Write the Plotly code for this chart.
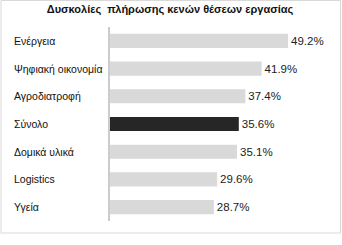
import plotly.graph_objects as go

categories = ["Ενέργεια", "Ψηφιακή οικονομία", "Αγροδιατροφή", "Σύνολο", "Δομικά υλικά", "Logistics", "Υγεία"]
values = [49.2, 41.9, 37.4, 35.6, 35.1, 29.6, 28.7]
labels = [f"{v:.1f}%" for v in values]
colors = ["#262626" if c == "Σύνολο" else "#d9d9d9" for c in categories]

W, H = 342, 245
ml, mr, mt, mb = 110, 20, 27, 24
pw, ph = W - ml - mr, H - mt - mb

fig = go.Figure(go.Bar(
    x=values, y=categories, orientation="h",
    marker=dict(color=colors, line=dict(width=0)),
    text=labels, textposition="outside", cliponaxis=False,
    textfont=dict(family="Liberation Sans, Arial", size=11.5, color="#222"),
))

for c in categories:
    fig.add_annotation(x=-98 / pw, xref="paper", y=c, yref="y", text=c,
                       showarrow=False, xanchor="left",
                       font=dict(family="Liberation Sans, Arial", size=10.5, color="#111"))

def px(x): return (x - ml) / pw
def py(y): return (H - mb - y) / ph

fig.add_shape(type="rect", xref="paper", yref="paper",
              x0=px(1), x1=px(340.5), y0=py(233), y1=py(0.5),
              line=dict(color="#d9d9d9", width=1), layer="below")

fig.update_layout(
    width=W, height=H, margin=dict(l=ml, r=mr, t=mt, b=mb),
    paper_bgcolor="white", plot_bgcolor="white",
    bargap=0.49, showlegend=False,
    title=dict(text="<b>Δυσκολίες  πλήρωσης κενών θέσεων εργασίας</b>", x=0.5, xref="paper",
               xanchor="center", y=1 - 9 / H, yanchor="middle",
               font=dict(family="Liberation Sans, Arial", size=11, color="#111")),
    xaxis=dict(range=[0, pw / (178 / 49.2)], visible=False, fixedrange=True),
    yaxis=dict(autorange="reversed", showticklabels=False, showline=True,
               linecolor="#cccccc", linewidth=2, ticks="", showgrid=False, zeroline=False),
)
fig.update_layout(title_x=(170) / W, title_xref="container")

fig.write_html("out.html")
